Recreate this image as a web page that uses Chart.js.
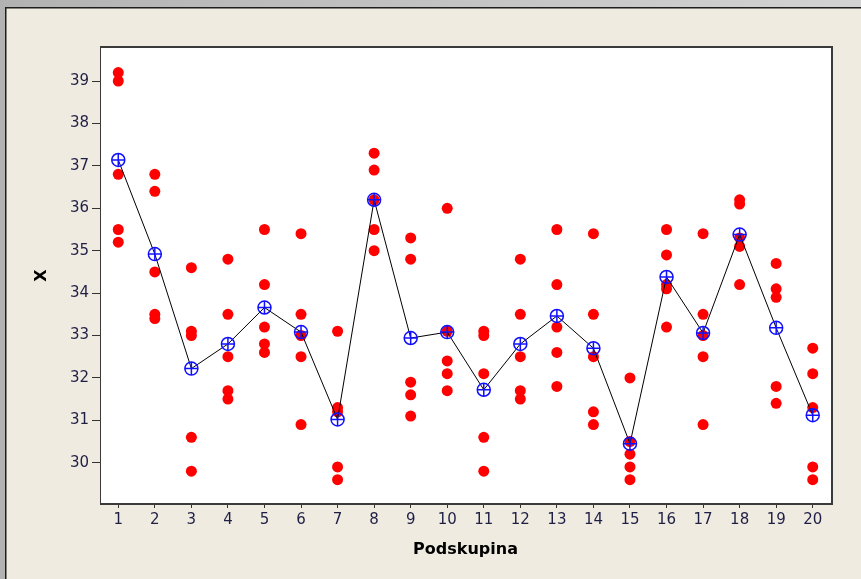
<!DOCTYPE html>
<html>
<head>
<meta charset="utf-8">
<script src="https://cdn.jsdelivr.net/npm/chart.js@4.4.1/dist/chart.umd.min.js"></script>
<style>
  html, body { margin: 0; padding: 0; background: #efebe1; }
  canvas { display: block; }
</style>
</head>
<body>
<canvas id="graf" width="861" height="579"></canvas>
<script>
// podskupiny 1..20, po 5 mereni v kazde
const podskupina = [1, 2, 3, 4, 5, 6, 7, 8, 9, 10, 11, 12, 13, 14, 15, 16, 17, 18, 19, 20];
const mereni = [
  [39.2, 39.0, 36.8, 35.5, 35.2],
  [36.8, 36.4, 34.5, 33.5, 33.4],
  [34.6, 33.1, 33.0, 30.6, 29.8],
  [34.8, 33.5, 32.5, 31.7, 31.5],
  [35.5, 34.2, 33.2, 32.8, 32.6],
  [35.4, 33.5, 33.0, 32.5, 30.9],
  [33.1, 31.3, 31.2, 29.9, 29.6],
  [37.3, 36.9, 36.2, 35.5, 35.0],
  [35.3, 34.8, 31.9, 31.6, 31.1],
  [36.0, 33.1, 32.4, 32.1, 31.7],
  [33.1, 33.0, 32.1, 30.6, 29.8],
  [34.8, 33.5, 32.5, 31.7, 31.5],
  [35.5, 34.2, 33.2, 32.6, 31.8],
  [35.4, 33.5, 32.5, 31.2, 30.9],
  [32.0, 30.5, 30.2, 29.9, 29.6],
  [35.5, 34.9, 34.2, 34.1, 33.2],
  [35.4, 33.5, 33.0, 32.5, 30.9],
  [36.2, 36.1, 35.3, 35.1, 34.2],
  [34.7, 34.1, 33.9, 31.8, 31.4],
  [32.7, 32.1, 31.3, 29.9, 29.6]
];
const prumery = [37.14, 34.92, 32.22, 32.8, 33.66, 33.08, 31.02, 36.2, 32.94, 33.08,
                 31.72, 32.8, 33.46, 32.7, 30.45, 34.38, 33.06, 35.38, 33.18, 31.12];
const yTicks = [30, 31, 32, 33, 34, 35, 36, 37, 38, 39];

let body = [];
mereni.forEach(function(skupina, i) {
    skupina.forEach(function(v) {
        body.push({ x: podskupina[i], y: v });
    });
});
let prumerBody = prumery.map(function(v, i) { return { x: podskupina[i], y: v }; });

const ramecek = {
    id: 'ramecek',
    beforeDraw(chart) {
        const c = chart.ctx, w = chart.width, h = chart.height, a = chart.chartArea;
        c.save();
        c.fillStyle = '#efebe1';
        c.fillRect(0, 0, w, h);
        let g = c.createLinearGradient(0, 0, w, 0);
        g.addColorStop(0, '#b2b2b2');
        g.addColorStop(1, '#d3d3d3');
        c.fillStyle = g;
        c.fillRect(0, 0, w, 7);
        c.fillStyle = '#b2b2b2';
        c.fillRect(0, 0, 5, h);
        c.fillStyle = '#1e1e1e';
        c.fillRect(5, 7, w - 5, 1.5);
        c.fillRect(5, 7, 1.5, h - 7);
        c.fillStyle = '#ffffff';
        c.fillRect(a.left, a.top, a.right - a.left, a.bottom - a.top);
        c.restore();
    },
    beforeDatasetsDraw(chart) {
        const c = chart.ctx, a = chart.chartArea;
        c.save();
        c.strokeStyle = '#3a3a3a';
        c.lineWidth = 1;
        c.strokeRect(a.left + 0.5, a.top - 0.5, a.right - a.left, a.bottom - a.top + 1);
        c.lineWidth = 2;
        c.beginPath();
        c.moveTo(a.left, a.top - 1);
        c.lineTo(a.right + 1, a.top - 1);
        c.lineTo(a.right + 1, a.bottom + 1);
        c.lineTo(a.left, a.bottom + 1);
        c.stroke();
        c.restore();
    }
};

const tickFont = { family: 'DejaVu Sans', size: 15 };
const tickColor = '#1f1f45';

var ctx = document.getElementById('graf').getContext('2d');
var chart = new Chart(ctx, {
    type: 'scatter',
    data: {
        datasets: [
            {
                // kriz v prumeru
                data: prumerBody,
                pointStyle: 'cross',
                pointRadius: 6.5,
                borderColor: '#1010ff',
                borderWidth: 1.5,
                backgroundColor: 'rgba(0,0,0,0)'
            },
            {
                // kruh kolem prumeru
                data: prumerBody,
                pointStyle: 'circle',
                pointRadius: 6.5,
                borderColor: '#1010ff',
                borderWidth: 1.5,
                backgroundColor: 'rgba(0,0,0,0)'
            },
            {
                // spojnice prumeru
                type: 'line',
                data: prumerBody,
                borderColor: '#000000',
                borderWidth: 1,
                pointRadius: 0,
                tension: 0,
                fill: false
            },
            {
                data: body,
                pointStyle: 'circle',
                pointRadius: 5.5,
                backgroundColor: '#ff0000',
                borderWidth: 0
            }
        ]
    },
    options: {
        responsive: false,
        animation: false,
        events: [],
        layout: { padding: { top: 48, right: 30, left: 0, bottom: 0 } },
        plugins: { legend: { display: false }, tooltip: { enabled: false } },
        scales: {
            x: {
                type: 'linear',
                min: 0.5,
                max: 20.5,
                afterBuildTicks: function(s) { s.ticks = podskupina.map(function(v) { return { value: v }; }); },
                afterFit: function(s) { s.height = 76; },
                border: { display: false },
                grid: { drawOnChartArea: false, tickLength: 5, color: '#333333', lineWidth: 1 },
                ticks: { autoSkip: false, maxRotation: 0, padding: 3, color: tickColor, font: tickFont },
                title: { display: true, text: 'Podskupina', color: '#000000', font: { family: 'DejaVu Sans', size: 16, weight: 'bold' }, padding: { top: 0, bottom: 20 } }
            },
            y: {
                min: 29.05,
                max: 39.78,
                afterBuildTicks: function(s) { s.ticks = yTicks.map(function(v) { return { value: v }; }); },
                afterFit: function(s) { s.width = 100; },
                border: { display: false },
                grid: { drawOnChartArea: false, tickLength: 8, color: '#333333', lineWidth: 1 },
                ticks: { padding: 3, color: tickColor, font: tickFont },
                title: { display: true, text: 'X', color: '#000000', font: { family: 'DejaVu Sans', size: 16, weight: 'bold' }, padding: { top: 32, bottom: 0 } }
            }
        }
    },
    plugins: [ramecek]
});
</script>
</body>
</html>
